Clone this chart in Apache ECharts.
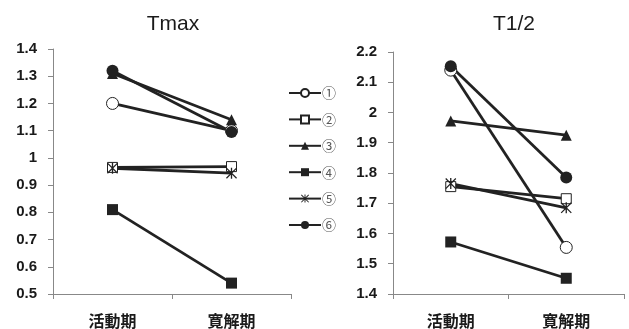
<!DOCTYPE html>
<html><head><meta charset="utf-8">
<script src="https://cdn.jsdelivr.net/npm/echarts@6/dist/echarts.min.js"></script>
<style>html,body{margin:0;padding:0;background:#fff}#c{width:629px;height:329px}</style>
</head><body><div id="c"></div>
<script>
const categories = ['活動期', '寛解期'];
const names = ['①', '②', '③', '④', '⑤', '⑥'];
const titles = ['Tmax', 'T1/2'];
// values per subject: [活動期, 寛解期]
const tmaxValues = [
  [1.20, 1.10],
  [0.965, 0.968],
  [1.31, 1.14],
  [0.81, 0.54],
  [0.962, 0.944],
  [1.32, 1.095]
];
const thalfValues = [
  [2.14, 1.554],
  [1.755, 1.715],
  [1.972, 1.925],
  [1.572, 1.452],
  [1.765, 1.685],
  [2.153, 1.785]
];
const tmaxTicks = { min: 0.5, max: 1.4, interval: 0.1 };
const thalfTicks = { min: 1.4, max: 2.2, interval: 0.1 };

const ink = '#222';
const star = 'path://M4.4 0L5.6 0L5.6 10L4.4 10Z M0 0.8L0.8 0L10 9.2L9.2 10Z M9.2 0L10 0.8L0.8 10L0 9.2Z';
const markers = [
  { symbol: 'circle', size: 12, fill: '#fff' },
  { symbol: 'rect', size: 10, fill: '#fff' },
  { symbol: 'triangle', size: 11, fill: ink },
  { symbol: 'rect', size: 11, fill: ink },
  { symbol: star, size: 11, fill: ink },
  { symbol: 'circle', size: 12, fill: ink }
];

function makeSeries(values, gi) {
  return values.map((v, i) => ({
    name: names[i],
    type: 'line',
    xAxisIndex: gi, yAxisIndex: gi,
    data: v,
    symbol: markers[i].symbol,
    symbolSize: markers[i].size,
    lineStyle: { color: ink, width: 2.8 },
    itemStyle: { color: markers[i].fill, borderColor: ink, borderWidth: markers[i].fill === '#fff' ? 1 : 0 },
    emphasis: { disabled: true },
    animation: false
  }));
}

const yLabel = { color: '#1a1a1a', fontFamily: 'Liberation Sans', fontWeight: 'bold', fontSize: 15 };
const axisLineStyle = { lineStyle: { color: '#888', width: 1 } };

const chart = echarts.init(document.getElementById('c'));
chart.setOption({
  animation: false,
  backgroundColor: '#fff',
  title: [
    { text: titles[0], left: 168, top: 9, textAlign: 'center', textStyle: { fontFamily: 'Liberation Sans', fontWeight: 'normal', fontSize: 21, color: '#1a1a1a' } },
    { text: titles[1], left: 509, top: 9, textAlign: 'center', textStyle: { fontFamily: 'Liberation Sans', fontWeight: 'normal', fontSize: 21, color: '#1a1a1a' } }
  ],
  legend: {
    data: names, orient: 'vertical', left: 283, top: 81,
    itemWidth: 32, itemHeight: 10, itemGap: 12.4,
    textStyle: { fontFamily: 'Noto Sans CJK JP', fontSize: 14, lineHeight: 14, color: '#555', padding: [0, 0, 0, -4] },
    selectedMode: false
  },
  grid: [
    { left: 53, right: 338, top: 49, bottom: 35 },
    { left: 393, right: 5, top: 52, bottom: 34 }
  ],
  xAxis: [0, 1].map(gi => ({
    type: 'category', gridIndex: gi, data: categories,
    axisLine: axisLineStyle,
    axisTick: { show: true, length: 5, lineStyle: { color: '#888' } },
    axisLabel: { color: '#1a1a1a', fontFamily: 'Noto Sans CJK JP', fontWeight: 'bold', fontSize: 16, margin: 19 }
  })),
  yAxis: [
    Object.assign({ type: 'value', gridIndex: 0 }, tmaxTicks, {
      axisLine: Object.assign({ show: true }, axisLineStyle),
      axisTick: { show: true, length: 5, lineStyle: { color: '#888' } },
      splitLine: { show: false },
      axisLabel: Object.assign({ margin: 16, formatter: v => String(+v.toFixed(1)) }, yLabel)
    }),
    Object.assign({ type: 'value', gridIndex: 1 }, thalfTicks, {
      axisLine: Object.assign({ show: true }, axisLineStyle),
      axisTick: { show: true, length: 5, lineStyle: { color: '#888' } },
      splitLine: { show: false },
      axisLabel: Object.assign({ margin: 16, formatter: v => String(+v.toFixed(1)) }, yLabel)
    })
  ],
  series: makeSeries(tmaxValues, 0).concat(makeSeries(thalfValues, 1))
});
</script></body></html>
